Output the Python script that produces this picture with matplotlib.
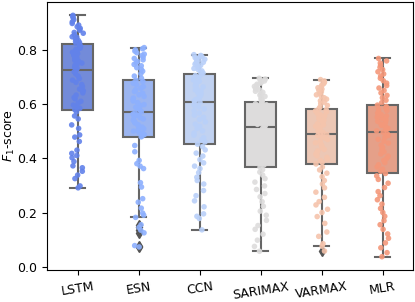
import numpy as np
import pandas as pd
import matplotlib
matplotlib.use("Agg")
import matplotlib.pyplot as plt
import seaborn as sns

models = ["LSTM", "ESN", "CCN", "SARIMAX", "VARMAX", "MLR"]

lstm = [0.291, 0.298, 0.325, 0.338, 0.352, 0.365, 0.372, 0.388, 0.402, 0.41,
        0.418, 0.43, 0.462, 0.478, 0.486, 0.51, 0.523, 0.545, 0.556, 0.571,
        0.579,
        0.584, 0.588, 0.596, 0.603, 0.61, 0.619, 0.624, 0.633, 0.641, 0.649,
        0.655, 0.664, 0.672, 0.68, 0.688, 0.694, 0.703, 0.711, 0.719,
        0.727,
        0.731, 0.736, 0.743, 0.746, 0.751, 0.758, 0.761, 0.768, 0.771, 0.779,
        0.783, 0.786, 0.791, 0.798, 0.801, 0.806, 0.811, 0.815, 0.819,
        0.823,
        0.827, 0.831, 0.834, 0.841, 0.846, 0.848, 0.855, 0.861, 0.864, 0.872,
        0.876, 0.879, 0.885, 0.891, 0.897, 0.903, 0.911, 0.917, 0.923,
        0.927]
esn = [0.073, 0.078, 0.125, 0.135, 0.145, 0.155, 0.182, 0.19, 0.198, 0.216,
       0.238, 0.251, 0.294, 0.31, 0.362, 0.371, 0.38, 0.392, 0.424, 0.447,
       0.479,
       0.482, 0.487, 0.491, 0.496, 0.5, 0.505, 0.509, 0.515, 0.52, 0.524,
       0.53, 0.535, 0.54, 0.545, 0.55, 0.553, 0.559, 0.563, 0.567,
       0.571,
       0.576, 0.582, 0.588, 0.594, 0.598, 0.605, 0.611, 0.617, 0.622, 0.628,
       0.634, 0.64, 0.646, 0.652, 0.658, 0.664, 0.671, 0.677, 0.683,
       0.688,
       0.695, 0.703, 0.712, 0.721, 0.728, 0.734, 0.741, 0.746, 0.752, 0.757,
       0.763, 0.768, 0.773, 0.779, 0.784, 0.789, 0.795, 0.8, 0.804,
       0.808]
ccn = [0.136, 0.178, 0.186, 0.195, 0.221, 0.243, 0.262, 0.281, 0.305, 0.318,
       0.33, 0.347, 0.362, 0.371, 0.383, 0.395, 0.408, 0.419, 0.431, 0.443,
       0.452,
       0.46, 0.468, 0.476, 0.485, 0.493, 0.501, 0.51, 0.518, 0.526, 0.534,
       0.543, 0.551, 0.559, 0.567, 0.575, 0.582, 0.589, 0.595, 0.601,
       0.606,
       0.611, 0.616, 0.621, 0.626, 0.631, 0.637, 0.642, 0.647, 0.652, 0.657,
       0.663, 0.668, 0.673, 0.678, 0.684, 0.689, 0.695, 0.7, 0.705,
       0.71,
       0.714, 0.718, 0.722, 0.727, 0.731, 0.735, 0.739, 0.743, 0.747, 0.751,
       0.754, 0.758, 0.761, 0.765, 0.768, 0.771, 0.774, 0.777, 0.779,
       0.782]
sarimax = [0.057, 0.075, 0.098, 0.12, 0.138, 0.152, 0.171, 0.19, 0.205, 0.223,
           0.24, 0.258, 0.27, 0.285, 0.298, 0.312, 0.325, 0.338, 0.349, 0.358,
           0.367,
           0.375, 0.383, 0.391, 0.399, 0.407, 0.415, 0.423, 0.431, 0.439, 0.447,
           0.455, 0.462, 0.47, 0.477, 0.485, 0.492, 0.499, 0.505, 0.51,
           0.515,
           0.52, 0.525, 0.53, 0.534, 0.539, 0.544, 0.548, 0.553, 0.558, 0.563,
           0.567, 0.572, 0.577, 0.582, 0.587, 0.592, 0.597, 0.601, 0.605,
           0.608,
           0.613, 0.618, 0.623, 0.628, 0.633, 0.638, 0.643, 0.647, 0.652, 0.656,
           0.661, 0.665, 0.669, 0.673, 0.677, 0.681, 0.685, 0.689, 0.692,
           0.695]
varmax = [0.058, 0.076, 0.085, 0.112, 0.128, 0.16, 0.185, 0.2, 0.212, 0.228,
          0.24, 0.256, 0.275, 0.291, 0.305, 0.318, 0.332, 0.345, 0.357, 0.368,
          0.379,
          0.385, 0.391, 0.397, 0.403, 0.409, 0.415, 0.421, 0.427, 0.433, 0.439,
          0.445, 0.451, 0.457, 0.463, 0.469, 0.474, 0.479, 0.484, 0.488,
          0.491,
          0.496, 0.5, 0.505, 0.509, 0.514, 0.518, 0.523, 0.527, 0.532, 0.536,
          0.541, 0.546, 0.551, 0.556, 0.561, 0.566, 0.571, 0.575, 0.579,
          0.583,
          0.589, 0.595, 0.601, 0.607, 0.612, 0.618, 0.623, 0.629, 0.634, 0.64,
          0.645, 0.65, 0.655, 0.66, 0.665, 0.67, 0.675, 0.68, 0.685,
          0.69]
mlr = [0.037, 0.052, 0.07, 0.088, 0.105, 0.121, 0.138, 0.155, 0.17, 0.186,
       0.2, 0.215, 0.231, 0.247, 0.262, 0.277, 0.292, 0.308, 0.322, 0.335,
       0.344,
       0.352, 0.36, 0.368, 0.376, 0.384, 0.392, 0.4, 0.408, 0.416, 0.424,
       0.432, 0.44, 0.448, 0.456, 0.463, 0.47, 0.477, 0.484, 0.49,
       0.496,
       0.501, 0.506, 0.511, 0.516, 0.521, 0.526, 0.531, 0.536, 0.541, 0.546,
       0.551, 0.556, 0.561, 0.566, 0.571, 0.576, 0.581, 0.586, 0.591,
       0.596,
       0.605, 0.614, 0.623, 0.632, 0.641, 0.65, 0.659, 0.668, 0.677, 0.686,
       0.695, 0.703, 0.711, 0.719, 0.727, 0.735, 0.743, 0.751, 0.759,
       0.768]

series = [lstm, esn, ccn, sarimax, varmax, mlr]
df = pd.DataFrame({
    "model": np.repeat(models, [len(s) for s in series]),
    "f1": np.concatenate(series),
})

plt.rcParams["font.family"] = ["DejaVu Sans"]
plt.rcParams["font.size"] = 9

fig, ax = plt.subplots(figsize=(4.15, 3.02), dpi=100)
fig.subplots_adjust(left=47 / 415, right=413 / 415, top=1 - 1.5 / 302, bottom=1 - 270 / 302)

pal = sns.color_palette("coolwarm", 7)[:len(models)]
sns.boxplot(data=df, x="model", y="f1", hue="model", palette=pal, order=models,
            width=0.5, legend=False, ax=ax, linecolor="#666666", linewidth=1.5,
            flierprops=dict(marker="d", markersize=5, markerfacecolor="#555555",
                            markeredgecolor="#555555"))
np.random.seed(3)
sns.stripplot(data=df, x="model", y="f1", hue="model", palette=pal, order=models,
              size=4, jitter=True, alpha=0.9, legend=False, ax=ax)

ax.set_xlim(-0.5, 5.5)
ax.set_ylim(-0.012, 0.978)
ax.set_yticks([0.0, 0.2, 0.4, 0.6, 0.8])
ax.set_xlabel("")
ax.set_ylabel("$F_1$-score", labelpad=0)
for lbl in ax.get_xticklabels():
    lbl.set_rotation(9)

fig.savefig("out.png", dpi=100)
